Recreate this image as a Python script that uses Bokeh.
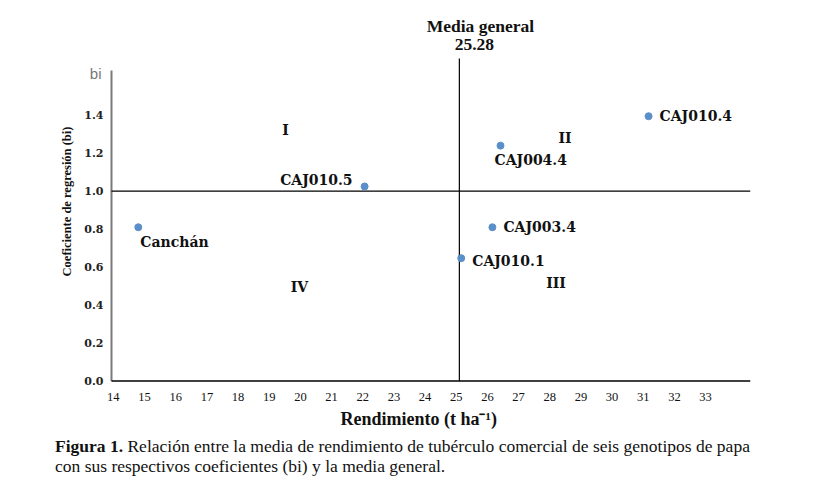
from bokeh.plotting import figure
from bokeh.models import Label, FixedTicker, Range1d, NumeralTickFormatter, Title, Div
from bokeh.layouts import column
from bokeh.embed import file_html
from bokeh.resources import INLINE

# ---- data ----
genotypes = ["Canchán", "CAJ010.5", "CAJ004.4", "CAJ010.4", "CAJ003.4", "CAJ010.1"]
rendimiento = [14.80, 22.06, 26.42, 31.17, 26.16, 25.16]
bi = [0.81, 1.025, 1.24, 1.395, 0.81, 0.647]

media_general_label = "25.28"
media_general_pos = 25.10   # where the vertical reference line is drawn in the picture
bi_ref = 1.0

quad_labels = ["I", "II", "III", "IV"]
quad_x = [19.52, 28.49, 28.20, 19.97]
quad_y = [1.32, 1.279, 0.515, 0.493]

x_ticks = list(range(14, 34))
y_ticks = [0.0, 0.2, 0.4, 0.6, 0.8, 1.0, 1.2, 1.4]

caption_bold = "Figura 1."
caption_line1 = "Relación entre la media de rendimiento de tubérculo comercial de seis genotipos de papa"
caption_line2 = "con sus respectivos coeficientes (bi) y la media general."

# label placement (screen px, style only)
label_dx = [2, -12, -6, 11, 11, 11]
label_dy = [-15, 6, -14, 0, 0, -3]
label_align = ["left", "right", "left", "left", "left", "left"]

Y_AXIS_X = 13.94           # x where the y axis crosses
X0, X1 = 12.304, 34.44     # frame extends left of the y axis (room for its labels)
Y0, Y1 = -0.0606, 1.952    # frame extends a little below 0 and up to the heading
Y_AXIS_TOP = 1.636
MEAN_LINE_TOP = 1.699

p = figure(width=804, height=436, x_range=Range1d(X0, X1), y_range=Range1d(Y0, Y1),
           output_backend="svg", toolbar_location=None,
           min_border_left=60, min_border_right=54, min_border_top=10, min_border_bottom=44)
p.outline_line_color = None
p.xgrid.visible = False
p.ygrid.visible = False

SERIF = "Liberation Serif"
BSERIF = "DejaVu Serif"

xa = p.xaxis[0]
xa.ticker = FixedTicker(ticks=x_ticks)
xa.axis_line_color = None
xa.major_tick_line_color = None
xa.minor_tick_line_color = None
xa.major_tick_out = 0
xa.major_tick_in = 0
xa.major_label_text_font = SERIF
xa.major_label_text_font_size = "12.5px"
xa.major_label_text_color = "#111111"
xa.major_label_standoff = 0

# x axis title, placed like the reference (not centred on the frame)
p.add_layout(Title(text="Rendimiento (t ha⁻¹)", align="left", offset=280, standoff=6,
                   text_font=SERIF, text_font_style="bold", text_font_size="18px",
                   text_color="#111111"), "below")

ya = p.yaxis[0]
ya.fixed_location = Y_AXIS_X
ya.ticker = FixedTicker(ticks=y_ticks)
ya.formatter = NumeralTickFormatter(format="0.0")
ya.axis_line_color = None
ya.major_tick_line_color = None
ya.minor_tick_line_color = None
ya.major_tick_out = 0
ya.major_tick_in = 0
ya.major_label_text_font = BSERIF
ya.major_label_text_font_style = "bold"
ya.major_label_text_font_size = "11px"
ya.major_label_text_color = "#222222"
ya.major_label_standoff = 8
ya.axis_label = "Coeficiente de regresión (bi)"
ya.axis_label_text_font = SERIF
ya.axis_label_text_font_style = "bold"
ya.axis_label_text_font_size = "12.5px"
ya.axis_label_text_color = "#111111"
ya.axis_label_standoff = 7

# axis lines: y axis gray (shorter), x axis black starting at the y axis
p.segment(x0=[Y_AXIS_X], y0=[0], x1=[Y_AXIS_X], y1=[Y_AXIS_TOP], line_color="#7a7a7a", line_width=2)
p.segment(x0=[Y_AXIS_X], y0=[0], x1=[X1], y1=[0], line_color="black", line_width=1.5)

# reference lines
p.segment(x0=[Y_AXIS_X], y0=[bi_ref], x1=[X1], y1=[bi_ref], line_color="black", line_width=1.2)
p.segment(x0=[media_general_pos], y0=[0], x1=[media_general_pos], y1=[MEAN_LINE_TOP],
          line_color="black", line_width=1.2)

# heading above the mean line
p.add_layout(Label(x=media_general_pos, y=MEAN_LINE_TOP, x_offset=21, y_offset=33,
                   text="Media general", text_align="center", text_baseline="middle",
                   text_font=SERIF, text_font_style="bold", text_font_size="17.5px",
                   text_color="#111111"))
p.add_layout(Label(x=media_general_pos, y=MEAN_LINE_TOP, x_offset=15, y_offset=14,
                   text=media_general_label, text_align="center", text_baseline="middle",
                   text_font=SERIF, text_font_style="bold", text_font_size="17.5px",
                   text_color="#111111"))

# points
p.scatter(rendimiento, bi, size=7, fill_color="#5b8fc9", line_color="#5b8fc9")

for g, x, y, dx, dy, al in zip(genotypes, rendimiento, bi, label_dx, label_dy, label_align):
    p.add_layout(Label(x=x, y=y, text=g, x_offset=dx, y_offset=dy, text_align=al,
                       text_baseline="middle", text_font=BSERIF, text_font_style="bold",
                       text_font_size="14px", text_color="#111111"))

for t, x, y in zip(quad_labels, quad_x, quad_y):
    p.add_layout(Label(x=x, y=y, text=t, text_align="center", text_baseline="middle",
                       text_font=BSERIF, text_font_style="bold", text_font_size="14px",
                       text_color="#111111"))

# "bi" at top of the y axis
p.add_layout(Label(x=Y_AXIS_X, y=Y_AXIS_TOP, x_offset=-10, y_offset=-2.7, text="bi",
                   text_align="right", text_baseline="middle", text_font="Liberation Sans",
                   text_font_size="15px", text_color="#777777"))

caption = Div(
    text=(f'<div style="font-family: \'Liberation Serif\', \'Times New Roman\', serif; '
          f'font-size: 17.5px; line-height: 20px; color: #111111; white-space: nowrap;">'
          f'<b>{caption_bold}</b> {caption_line1}<br>{caption_line2}</div>'),
    width=780, margin=(0, 0, 0, 55),
)

layout = column(p, caption, spacing=0)
open("out.html", "w").write(file_html(layout, INLINE))
